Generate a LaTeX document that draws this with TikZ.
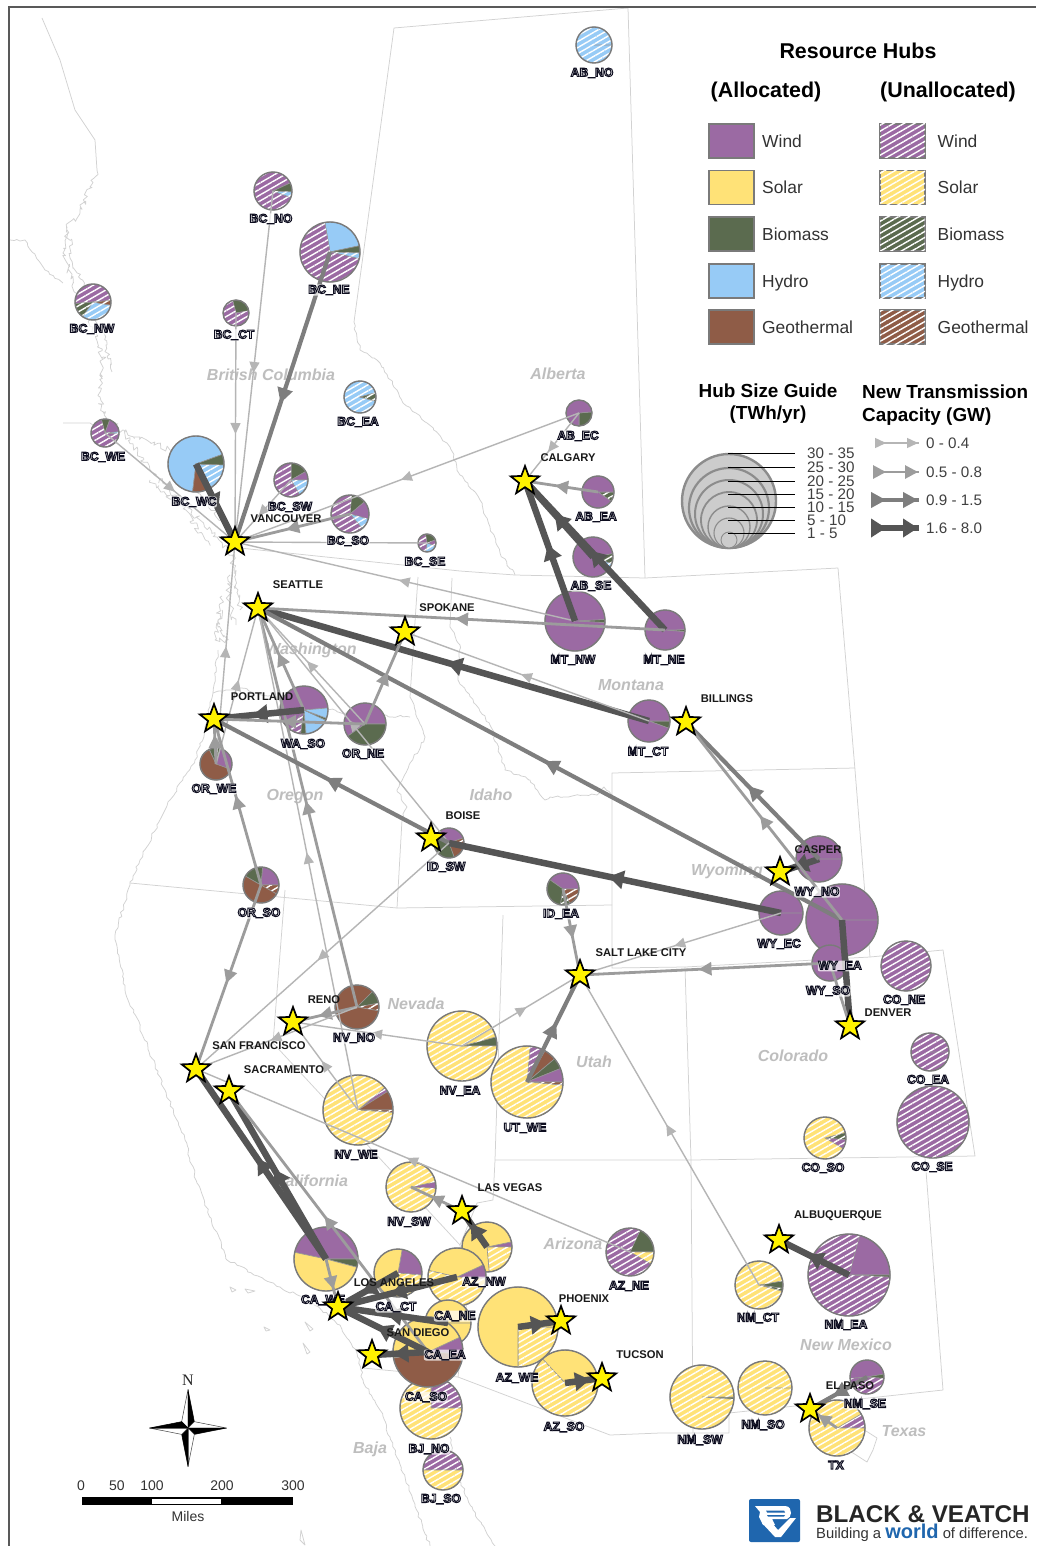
\documentclass[tikz,border=0pt]{standalone}
\usepackage{fontspec}
\setmainfont{Liberation Sans}
\usetikzlibrary{shapes.geometric,patterns.meta,decorations.markings,decorations.pathmorphing,arrows.meta}
\pgfdeclarelayer{fg}
\pgfsetlayers{main,fg}
\definecolor{cwind}{HTML}{9B6AA3}
\definecolor{csolar}{HTML}{FFE277}
\definecolor{cbio}{HTML}{5B6B4F}
\definecolor{chyd}{HTML}{97CBF6}
\definecolor{cgeo}{HTML}{8F5C47}
\definecolor{cout}{HTML}{7A7A7A}
\definecolor{cmap}{HTML}{D2D2D2}
\definecolor{gA}{HTML}{B5B5B5}
\definecolor{gB}{HTML}{9C9C9C}
\definecolor{gC}{HTML}{7E7E7E}
\definecolor{gD}{HTML}{555555}
\definecolor{cstate}{HTML}{BEBEBE}
\definecolor{bvblue}{HTML}{1F66AE}
\newcommand\fs[1]{\fontsize{#1}{#1}\selectfont}
\newcommand\hl[1]{\special{pdf:code 2 Tr 0.95 w 0.05 0.05 0.12 RG 1 1 1 rg}#1\special{pdf:code 0 Tr 0 g 0 G}}
\tikzset{
  hatch/.style={postaction={pattern={Lines[angle=30,distance=5.2pt,line width=1.4pt]},pattern color=white}},
  pwa/.style={fill=cwind},psa/.style={fill=csolar},pba/.style={fill=cbio},pha/.style={fill=chyd},pga/.style={fill=cgeo},
  pwu/.style={fill=cwind,hatch},psu/.style={fill=csolar,hatch},pbu/.style={fill=cbio,hatch},phu/.style={fill=chyd,hatch},pgu/.style={fill=cgeo,hatch},
  mapl/.style={draw=cmap,line width=.75pt,line join=round},
  jag/.style={mapl,decorate,decoration={random steps,segment length=3.5pt,amplitude=1.3pt}},
  jagb/.style={mapl,decorate,decoration={random steps,segment length=2.5pt,amplitude=3pt}},
  tA/.style={draw=gA,line width=1.4pt,>={Triangle[length=11pt,width=10pt]}},
  tB/.style={draw=gB,line width=2.8pt,>={Triangle[length=13pt,width=13pt]}},
  tC/.style={draw=gC,line width=4.2pt,>={Triangle[length=15pt,width=15pt]}},
  tD/.style={draw=gD,line width=6.5pt,>={Triangle[length=15pt,width=18pt]}},
  midtip/.style={postaction={decorate,decoration={markings,mark=at position .5 with {\arrow[xshift=6.5pt]{>}}}}},
  hublab/.style={font=\fs{12.2}\bfseries,inner xsep=.5pt,inner ysep=.5pt,fill=white,fill opacity=.72,text opacity=1,rounded corners=2pt},
  citylab/.style={font=\fs{11.2}\bfseries,text=black!90,inner sep=0pt},
  statelab/.style={font=\fs{16}\bfseries\itshape,text=cstate,inner sep=0pt},
  legtext/.style={font=\fs{17.4},text=black!80,inner sep=0pt,anchor=base west},
  legtitle/.style={font=\fs{21.4}\bfseries,text=black,inner sep=0pt,anchor=base},
  legsub/.style={font=\fs{18.9}\bfseries,text=black,inner sep=0pt,align=center},
  sizetext/.style={font=\fs{15.2},text=black!75,inner sep=0pt,anchor=west},
  swatch/.style={draw=cout,line width=1.2pt,minimum width=45pt,minimum height=34pt,inner sep=0pt},
  bubble/.style={circle,fill=black!20,draw=black!45,inner sep=0pt},
  cityst/.style={star,star points=5,star point ratio=2.4,minimum size=30pt,inner sep=0pt,fill=yellow,draw=black,line width=1.7pt},
  scalet/.style={font=\fs{14},text=black!80,inner sep=0pt},
}
\newcommand\hub[8]{%
  \foreach \a/\b/\s in {#8}{\path[\s,draw=cout!80,line width=.6pt] (#3,#4) -- +(\a:#5pt) arc[start angle=\a,end angle=\b,radius=#5pt] -- cycle;}
  \node[circle,draw=cout,line width=1.4pt,minimum size=2*#5pt,inner sep=0pt] (#1) at (#3,#4) {};
  \begin{pgfonlayer}{fg}\node[hublab] (l#1) at (#6,#7) {\hl{#2}};\end{pgfonlayer}
}
\newcommand\city[6]{%
  \begin{pgfonlayer}{fg}
  \node[cityst] (#1) at (#2,#3) {};
  \node[citylab] (l#1) at (#5,#6) {#4};
  \end{pgfonlayer}
}
\newcommand\conn[3]{\draw[#1,midtip] (#2.center) -- (#3.center);}
\newcommand\connx[3]{\draw[#1] (#2.center) -- (#3.center);}
\begin{document}
\begin{tikzpicture}[x=1pt,y=-1pt,line cap=butt]
\useasboundingbox (0,0) rectangle (1036,1546);
\fill[white] (0,0) rectangle (1036,1546);
% ---------- map lines
\draw[mapl] (394,28) -- (354,322);
\draw[jag] (354,322) -- (360,350) -- (380,363) -- (397,390) -- (403,403) -- (427,423) -- (450,447) -- (460,475) -- (480,500) -- (500,553) -- (515,575);
\draw[mapl] (394,28) -- (628,8) -- (645,578);
\draw[mapl] (240,548) -- (460,571) -- (515,575) -- (645,578) -- (838,568) -- (855,770) -- (870,957);
\draw[mapl] (612,795) -- (612,773) -- (855,768);
\draw[mapl] (612,795) -- (612,968) -- (685,967) -- (870,957) -- (943,950) -- (975,1156) -- (691,1160) -- (495,1160);
\draw[mapl] (685,967) -- (691,1160) -- (693,1433);
\draw[mapl] (925,1158) -- (943,1390) -- (795,1406) -- (729,1413) -- (729,1433) -- (660,1433) -- (610,1435) -- (458,1377) -- (363,1368);
\draw[mapl] (866,1431) -- (877,1438) -- (873,1450) -- (867,1462) -- (853,1453) -- (838,1445);
\draw[mapl] (503,915) -- (495,1160) -- (493,1200) -- (477,1203) -- (460,1245) -- (467,1300) -- (458,1377);
\draw[mapl] (285,890) -- (273,1043) -- (460,1245);
\draw[mapl] (130,883) -- (397,908) -- (612,905);
\draw[mapl] (397,908) -- (402,820);
\draw[jag] (402,820) -- (407,807) -- (397,790) -- (425,737) -- (410,697);
\draw[mapl] (410,697) -- (418,577);
\draw[jag] (213,693) -- (240,688) -- (280,700) -- (347,713) -- (410,717);
\draw[mapl] (452,578) -- (450,627);
\draw[jag] (450,627) -- (460,645) -- (458,680) -- (490,725) -- (505,770) -- (530,780) -- (545,800) -- (550,797) -- (597,795) -- (604,787) -- (612,795);
% coasts
\draw[mapl] (42,18) -- (60,60) -- (75,110) -- (95,140) -- (97,170);
\draw[jagb] (97,170) -- (90,187) -- (80,213) -- (67,227) -- (63,253) -- (73,283) -- (93,327) -- (103,357) -- (100,397) -- (103,413);
\draw[jagb] (68,232) -- (72,262) -- (90,300) -- (106,345) -- (112,372);
\draw[jag] (10,240) -- (25,240) -- (45,270) -- (63,283);
\draw[mapl] (63,423) -- (90,423) -- (103,432);
\draw[jagb] (103,413) -- (130,440) -- (150,470) -- (175,495) -- (215,535) -- (232,556);
\draw[jagb] (125,432) -- (170,450) -- (190,480) -- (222,520);
\draw[jagb] (150,480) -- (180,505) -- (210,545);
\draw[jagb] (232,556) -- (238,590) -- (240,610);
\draw[jagb] (222,596) -- (218,620) -- (226,640) -- (215,640) -- (222,610);
\draw[jagb] (230,575) -- (228,600) -- (236,625);
\draw[jag] (218,650) -- (213,693) -- (205,730) -- (195,760) -- (170,800) -- (140,860) -- (130,885) -- (115,935) -- (125,990) -- (165,1090) -- (185,1140) -- (197,1183) -- (227,1260) -- (280,1287) -- (313,1303) -- (340,1325) -- (357,1353) -- (363,1380) -- (380,1410) -- (390,1437) -- (403,1473) -- (413,1500) -- (430,1546);
\draw[jag] (450,1437) -- (455,1470) -- (473,1510) -- (495,1546);
\draw[mapl] (230,1287) -- (236,1290) -- (232,1292) -- cycle (245,1289) -- (255,1291) -- (248,1293) -- cycle (264,1327) -- (270,1330) -- (266,1331) -- cycle (305,1322) -- (313,1329) -- (310,1331) -- cycle (303,1343) -- (310,1352) -- (307,1354) -- cycle (301,1530) -- (305,1545) -- (300,1540) -- cycle;
% ---------- frame
\draw[black!65,line width=1.3pt] (9,1546) -- (9,7) -- (1036,7);
% ---------- labels of states
\node[statelab] (sBC) at (271,375) {British Columbia};
\node[statelab] (sAB) at (558,374) {Alberta};
\node[statelab] (sWA) at (311,650) {Washington};
\node[statelab] (sMT) at (631,685) {Montana};
\node[statelab] (sOR) at (295,797) {Oregon};
\node[statelab] (sID) at (491,795) {Idaho};
\node[statelab] (sWY) at (727,871) {Wyoming};
\node[statelab] (sNV) at (416,1004) {Nevada};
\node[statelab] (sUT) at (594,1062) {Utah};
\node[statelab] (sCO) at (793,1056) {Colorado};
\node[statelab] (sCA) at (311,1181) {California};
\node[statelab] (sAZ) at (573,1244) {Arizona};
\node[statelab] (sNM) at (846,1345) {New Mexico};
\node[statelab] (sTX) at (904,1431) {Texas};
\node[statelab] (sBJ) at (370,1449) {Baja};
% ---------- hubs
\hub{ABNO}{AB\_NO}{594}{45}{18}{592}{73}{0/360/phu}
\hub{BCNO}{BC\_NO}{273}{191}{19}{271}{219}{25/340/pwu,25/-3/pba,-3/-20/phu}
\hub{BCNE}{BC\_NE}{330}{252}{30}{329}{290}{100/12/pha,12/-2/pba,-2/-13/phu,100/347/pwu}
\hub{BCNW}{BC\_NW}{93}{302}{18}{92}{329}{5/185/pwu,185/235/pbu,235/350/phu,350/365/pgu}
\hub{BCCT}{BC\_CT}{236}{313}{13}{234}{335}{105/10/pba,105/370/pwu}
\hub{BCEA}{BC\_EA}{360}{397}{16}{358}{422}{15/345/phu,15/-15/pbu}
\hub{BCWE}{BC\_WE}{105}{433}{14}{103}{457}{105/70/pba,70/5/pwa,5/-5/phu,105/355/pwu}
\hub{BCWC}{BC\_WC}{196}{464}{28}{194}{502}{20/263/pha,263/297/pga,297/358/phu,358/380/pba}
\hub{BCSW}{BC\_SW}{291}{480}{17}{290}{507}{90/30/pba,30/0/pwa,0/-60/phu,90/300/pwu}
\hub{BCSO}{BC\_SO}{350}{514}{19}{348}{541}{85/40/pba,40/-15/pwa,-15/-50/phu,85/310/pwu}
\hub{BCSE}{BC\_SE}{427}{543}{9}{425}{562}{100/20/pba,20/-20/pwu,-20/-100/phu,100/260/pwu}
\hub{ABEC}{AB\_EC}{579}{413}{13}{578}{436}{5/-90/pba,5/270/pwa}
\hub{ABEA}{AB\_EA}{598}{492}{16}{596}{517}{0/-35/pbu,0/325/pwa}
\hub{ABSE}{AB\_SE}{593}{557}{20}{591}{586}{10/-20/pbu,-20/-35/phu,10/325/pwa}
\hub{MTNW}{MT\_NW}{575}{621}{30}{573}{660}{3/-3/pba,3/357/pwa}
\hub{MTNE}{MT\_NE}{665}{630}{20}{664}{660}{1/-5/pba,1/355/pwa}
\hub{MTCT}{MT\_CT}{649}{721}{21}{648}{752}{0/-20/pba,0/340/pwa}
\hub{WASO}{WA\_SO}{304}{710}{24}{303}{744}{5/235/pwa,235/262/pwu,262/275/pba,275/335/pha,335/340/pba,340/365/pha}
\hub{ORNE}{OR\_NE}{365}{724}{21}{363}{754}{0/215/pwa,215/360/pba}
\hub{ORWE}{OR\_WE}{216}{764}{16}{214}{789}{115/75/pba,75/-20/pwa,115/340/pga}
\hub{IDSW}{ID\_SW}{449}{843}{15}{446}{867}{140/20/pwa,20/-10/pgu,-10/-70/pga,140/290/pba}
\hub{ORSO}{OR\_SO}{261}{885}{18}{259}{913}{85/0/pwa,0/-30/pgu,150/330/pga,150/85/pba}
\hub{IDEA}{ID\_EA}{563}{889}{16}{561}{914}{145/0/pwa,0/-65/pgu,-65/-100/pbu,145/260/pba}
\hub{WYNO}{WY\_NO}{819}{859}{23}{817}{892}{0/360/pwa}
\hub{WYEC}{WY\_EC}{781}{913}{22}{779}{944}{0/360/pwa}
\hub{WYEA}{WY\_EA}{842}{920}{36}{840}{966}{0/360/pwa}
\hub{WYSO}{WY\_SO}{830}{963}{18}{828}{991}{0/360/pwa}
\hub{CONE}{CO\_NE}{906}{966}{25}{904}{1000}{0/360/pwu}
\hub{COEA}{CO\_EA}{930}{1052}{19}{928}{1080}{0/360/pwu}
\hub{COSE}{CO\_SE}{933}{1122}{36}{932}{1167}{0/360/pwu}
\hub{COSO}{CO\_SO}{825}{1138}{21}{823}{1168}{15/-5/pbu,-5/-30/pwu,15/330/psu}
\hub{NVNO}{NV\_NO}{357}{1007}{22}{354}{1038}{45/10/pba,10/-10/pgu,45/350/pga}
\hub{NVEA}{NV\_EA}{462}{1046}{35}{460}{1091}{15/0/pba,15/360/psu}
\hub{UTWE}{UT\_WE}{527}{1082}{36}{525}{1128}{85/60/pwu,60/40/pga,40/22/pba,22/0/pwa,0/-5/pgu,85/355/psu}
\hub{NVWE}{NV\_WE}{358}{1110}{35}{356}{1155}{40/32/pwu,32/0/pga,0/-4/pgu,40/356/psu}
\hub{NVSW}{NV\_SW}{411}{1187}{25}{409}{1222}{12/-3/pwa,12/357/psu}
\hub{AZNE}{AZ\_NE}{630}{1252}{24}{629}{1286}{65/0/pba,0/-30/psu,65/330/pwu}
\hub{NMCT}{NM\_CT}{759}{1285}{24}{758}{1318}{10/-8/pba,-8/-15/pbu,10/345/psu}
\hub{NMEA}{NM\_EA}{849}{1275}{41}{846}{1325}{75/0/pwa,0/-3/pba,75/357/pwu}
\hub{CAWE}{CA\_WE}{326}{1259}{32}{323}{1300}{168/0/pwa,0/-15/pba,168/345/psa}
\hub{CACT}{CA\_CT}{398}{1273}{24}{396}{1307}{80/-5/pwa,-5/-85/psu,80/275/psa}
\hub{AZNW}{AZ\_NW}{487}{1247}{25}{484}{1282}{12/0/pwa,0/-85/psu,12/275/psa}
\hub{CANE}{CA\_NE}{457}{1277}{29}{455}{1316}{25/-3/pwa,25/167/psa,167/357/psu}
\hub{CAEA}{CA\_EA}{448}{1323}{23}{445}{1355}{0/360/psa}
\hub{BJNO}{BJ\_NO}{431}{1408}{31}{429}{1449}{90/0/pwu,90/360/psu}
\hub{CASO}{CA\_SO}{428}{1352}{35}{426}{1397}{25/-3/pwa,25/190/psa,190/357/pga}
\hub{BJSO}{BJ\_SO}{443}{1470}{20}{441}{1499}{0/180/pwu,180/360/psu}
\hub{AZSO}{AZ\_SO}{565}{1383}{33}{564}{1427}{133/5/psa,133/365/psu}
\hub{AZWE}{AZ\_WE}{518}{1327}{40}{517}{1378}{0/-90/psu,0/270/psa}
\hub{NMSW}{NM\_SW}{702}{1397}{32}{700}{1440}{0/-4/pba,0/356/psu}
\hub{NMSO}{NM\_SO}{765}{1388}{27}{763}{1425}{0/360/psu}
\hub{TX}{TX}{837}{1428}{28}{836}{1465}{0/30/pwu,30/360/psu}
\hub{NMSE}{NM\_SE}{867}{1377}{17}{865}{1404}{185/10/pwa,10/-5/pba,-5/-175/pwu}
% ---------- cities
\city{CAL}{525}{481}{CALGARY}{568}{458}
\city{VAN}{235}{542}{VANCOUVER}{286}{519}
\city{SEA}{258}{608}{SEATTLE}{298}{585}
\city{SPO}{405}{632}{SPOKANE}{447}{608}
\city{POR}{214}{719}{PORTLAND}{262}{697}
\city{BIL}{686}{722}{BILLINGS}{727}{699}
\city{BOI}{431}{838}{BOISE}{463}{816}
\city{CAS}{780}{872}{CASPER}{818}{850}
\city{SLC}{580}{975}{SALT LAKE CITY}{641}{953}
\city{DEN}{850}{1026}{DENVER}{888}{1013}
\city{REN}{293}{1022}{RENO}{324}{1000}
\city{SFO}{196}{1069}{SAN FRANCISCO}{259}{1046}
\city{SAC}{229}{1091}{SACRAMENTO}{284}{1070}
\city{LAS}{462}{1211}{LAS VEGAS}{510}{1188}
\city{LAX}{338}{1307}{LOS ANGELES}{394}{1283}
\city{SAN}{372}{1355}{SAN DIEGO}{418}{1333}
\city{PHX}{561}{1321}{PHOENIX}{584}{1299}
\city{TUC}{602}{1378}{TUCSON}{640}{1355}
\city{ABQ}{779}{1240}{ALBUQUERQUE}{838}{1216}
\city{ELP}{810}{1409}{EL PASO}{850}{1386}
% ---------- connectors
\conn{tA}{BCNO}{VAN}\conn{tA}{BCCT}{VAN}\conn{tC}{BCNE}{VAN}\conn{tA}{BCWE}{VAN}\conn{tD}{BCWC}{VAN}
\conn{tA}{BCSW}{VAN}\conn{tB}{BCSO}{VAN}\connx{tA}{BCSE}{VAN}\conn{tA}{ABEC}{VAN}\conn{tA}{MTNW}{VAN}\conn{tA}{ORWE}{VAN}
\conn{tD}{MTNW}{CAL}\conn{tD}{MTNE}{CAL}\conn{tD}{ABSE}{CAL}\conn{tB}{ABEA}{CAL}\conn{tA}{ABEC}{CAL}
\conn{tD}{MTCT}{SEA}\conn{tA}{MTCT}{SPO}\conn{tB}{MTNE}{SEA}\conn{tC}{WYEA}{SEA}\conn{tB}{WASO}{SEA}\conn{tA}{ORNE}{SEA}
\conn{tA}{IDSW}{SEA}\conn{tB}{NVNO}{SEA}\conn{tA}{NVWE}{SEA}\conn{tA}{ORWE}{SEA}\conn{tB}{ORNE}{SPO}
\conn{tB}{ORSO}{POR}\conn{tB}{ORWE}{POR}\conn{tD}{WASO}{POR}\conn{tB}{ORNE}{POR}\conn{tC}{IDSW}{POR}
\conn{tD}{WYEC}{IDSW}\conn{tB}{ORSO}{SFO}\conn{tA}{IDSW}{SFO}
\conn{tB}{NVNO}{REN}\conn{tA}{NVEA}{REN}\conn{tA}{NVWE}{REN}\conn{tA}{NVNO}{SFO}
\conn{tD}{CAWE}{SFO}\conn{tD}{CAWE}{SAC}\conn{tB}{CASO}{SAC}\conn{tA}{AZNE}{SFO}\conn{tB}{CAWE}{LAX}
\conn{tB}{LAS}{NVSW}\conn{tD}{AZNW}{LAS}
\conn{tD}{CACT}{LAX}\conn{tD}{CANE}{LAX}\conn{tD}{CAEA}{LAX}\conn{tD}{CASO}{LAX}\conn{tD}{CASO}{SAN}
\conn{tD}{AZWE}{PHX}\conn{tD}{AZSO}{TUC}
\conn{tC}{UTWE}{SLC}\conn{tA}{NVEA}{SLC}\conn{tB}{IDEA}{SLC}\conn{tA}{WYEC}{SLC}\conn{tB}{WYSO}{SLC}\conn{tA}{NMCT}{SLC}
\conn{tD}{WYNO}{CAS}\conn{tC}{WYNO}{BIL}\conn{tB}{WYEA}{BIL}\connx{tD}{WYEA}{DEN}\connx{tB}{WYSO}{DEN}
\conn{tD}{NMEA}{ABQ}\conn{tC}{NMSE}{ELP}\conn{tB}{TX}{ELP}
% ---------- legend
\node[legtitle] (lgT) at (858,58.5) {Resource Hubs};
\node[legtitle] (lgA) at (766,98) {(Allocated)};
\node[legtitle] (lgU) at (948,98) {(Unallocated)};
\foreach \n/\y/\t/\s in {1/141/Wind/w,2/187.5/Solar/s,3/234/Biomass/b,4/281/Hydro/h,5/327/Geothermal/g}{
  \node[swatch,p\s a] (swa\n) at (731.5,\y) {};
  \node[legtext] (txa\n) at (762,\y+6.5) {\t};
  \node[swatch,p\s u] (swu\n) at (902.5,\y) {};
  \node[legtext] (txu\n) at (937.5,\y+6.5) {\t};
}
\node[legsub] (lgS) at (768,404) {Hub Size Guide\\[3pt](TWh/yr)};
\node[legsub,align=left,anchor=west] (lgN) at (862,405) {New Transmission\\[4pt]Capacity (GW)};
\foreach \r/\w [count=\i] in {47/2.4,40/2.2,34/2,28/1.8,21/1.4,15/1.1,8/.9}{
  \node[bubble,minimum size=2*\r pt,line width=\w pt] (bb\i) at (729,548-\r) {};
}
\foreach \y/\t [count=\i] in {453/30 - 35,467/25 - 30,481/20 - 25,494/15 - 20,507/10 - 15,520/5 - 10,533/1 - 5}{
  \node[sizetext] (st\i) at (807,\y) {\t};
  \coordinate (sl\i) at (728,\y);
  \draw[black,line width=1pt] (sl\i) -- ++(67,0);
}
\foreach \y/\s/\t [count=\i] in {443/tA/0 - 0.4,472/tB/0.5 - 0.8,500/tC/0.9 - 1.5,528/tD/1.6 - 8.0}{
  \coordinate (la\i) at (876,\y);
  \coordinate (lb\i) at (919,\y);
  \node[sizetext] (tt\i) at (926,\y) {\t};
  \draw[\s,postaction={decorate,decoration={markings,mark=at position 10pt with {\arrow{>}},mark=at position 42pt with {\arrow{>}}}}] (la\i) -- (lb\i);
}
% ---------- compass
\foreach \a in {90,0,-90,180}{
  \fill[white,draw=black!75,line width=.5pt] (188,1428) -- +(\a:38.5pt) -- +(\a+45:9pt) -- cycle;
  \fill[black,draw=black,line width=.5pt] (188,1428) -- +(\a:38.5pt) -- +(\a-45:9pt) -- cycle;
}
\node[font=\fontspec{Liberation Serif}\fs{16},inner sep=0pt,text=black!85] (cN) at (188,1380) {N};
% ---------- scale
\fill[black] (82,1497) rectangle (293,1505);
\fill[white] (152,1498.5) rectangle (221,1503.5);
\foreach \x/\t [count=\i] in {81/0,117/50,152/100,222/200,293/300}{\node[scalet] (sc\i) at (\x,1486) {\t};}
\node[scalet] (scM) at (188,1516) {Miles};
% ---------- logo
\fill[bvblue,rounded corners=2pt] (749,1499) rectangle (800,1542);
\fill[white] (755,1506) -- (785,1506) .. controls (790,1506) and (791,1510) .. (791,1513) .. controls (791,1516) and (789,1518) .. (787,1519) -- (772,1519) -- (775,1525) -- (763,1525) -- (759,1517) -- (760,1512) -- cycle;
\fill[bvblue] (766,1510.5) -- (784,1510.5) -- (785,1512.5) -- (767,1512.5) -- cycle (767,1515) -- (785,1515) -- (784,1516.5) -- (768,1516.5) -- cycle;
\fill[white] (762,1523) -- (772,1523) -- (778,1530) -- (790,1518) -- (796,1518) -- (781,1537) -- (775,1537) -- cycle;
\node[font=\fs{24.2}\bfseries,text=black!85,inner sep=0pt,anchor=base west] (bv1) at (816,1522) {BLACK \& VEATCH};
\node[font=\fs{14.8},text=black!80,inner sep=0pt,anchor=base west] (bv2) at (816,1538) {Building a \smash{\fs{20}\bfseries\color{bvblue}world} of difference.};
\end{tikzpicture}
\end{document}
